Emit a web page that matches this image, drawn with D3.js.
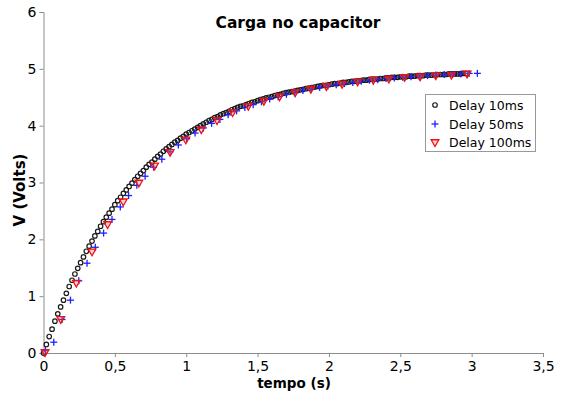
<!DOCTYPE html>
<html>
<head>
<meta charset="utf-8">
<script src="https://cdn.jsdelivr.net/npm/d3@7"></script>
<style>
  html, body { margin: 0; padding: 0; background: #fff; }
  svg { display: block; font-family: "DejaVu Sans", Verdana, sans-serif; }
</style>
</head>
<body>
<div id="chart"></div>
<script>
// Delay 10ms (circles)
var tempo10 = [
  0, 0.02, 0.04, 0.06, 0.08, 0.10, 0.12, 0.14, 0.16, 0.18,
  0.20, 0.22, 0.24, 0.26, 0.28, 0.30, 0.32, 0.34, 0.36, 0.38,
  0.40, 0.42, 0.44, 0.46, 0.48, 0.50, 0.52, 0.54, 0.56, 0.58,
  0.60, 0.62, 0.64, 0.66, 0.68, 0.70, 0.72, 0.74, 0.76, 0.78,
  0.80, 0.82, 0.84, 0.86, 0.88, 0.90, 0.92, 0.94, 0.96, 0.98,
  1.00, 1.02, 1.04, 1.06, 1.08, 1.10, 1.12, 1.14, 1.16, 1.18,
  1.20, 1.22, 1.24, 1.26, 1.28, 1.30, 1.32, 1.34, 1.36, 1.38,
  1.40, 1.42, 1.44, 1.46, 1.48, 1.50, 1.52, 1.54, 1.56, 1.58,
  1.60, 1.62, 1.64, 1.66, 1.68, 1.70, 1.72, 1.74, 1.76, 1.78,
  1.80, 1.82, 1.84, 1.86, 1.88, 1.90, 1.92, 1.94, 1.96, 1.98,
  2.00, 2.02, 2.04, 2.06, 2.08, 2.10, 2.12, 2.14, 2.16, 2.18,
  2.20, 2.22, 2.24, 2.26, 2.28, 2.30, 2.32, 2.34, 2.36, 2.38,
  2.40, 2.42, 2.44, 2.46, 2.48, 2.50, 2.52, 2.54, 2.56, 2.58,
  2.60, 2.62, 2.64, 2.66, 2.68, 2.70, 2.72, 2.74, 2.76, 2.78,
  2.80, 2.82, 2.84, 2.86, 2.88, 2.90, 2.92, 2.94, 2.96
];
var volts10 = [
  0, 0.15, 0.29, 0.42, 0.56, 0.69, 0.81, 0.93, 1.05, 1.17,
  1.28, 1.39, 1.49, 1.59, 1.69, 1.79, 1.88, 1.97, 2.06, 2.14,
  2.23, 2.31, 2.39, 2.46, 2.53, 2.61, 2.68, 2.74, 2.81, 2.87,
  2.93, 2.99, 3.05, 3.11, 3.16, 3.21, 3.27, 3.32, 3.36, 3.41,
  3.46, 3.50, 3.55, 3.59, 3.63, 3.67, 3.71, 3.74, 3.78, 3.81,
  3.85, 3.88, 3.91, 3.94, 3.97, 4.00, 4.03, 4.06, 4.09, 4.11,
  4.14, 4.16, 4.19, 4.21, 4.23, 4.25, 4.28, 4.30, 4.32, 4.34,
  4.35, 4.37, 4.39, 4.41, 4.42, 4.44, 4.46, 4.47, 4.49, 4.50,
  4.51, 4.53, 4.54, 4.55, 4.57, 4.58, 4.59, 4.60, 4.61, 4.62,
  4.63, 4.64, 4.65, 4.66, 4.67, 4.68, 4.69, 4.70, 4.71, 4.71,
  4.72, 4.73, 4.74, 4.74, 4.75, 4.76, 4.76, 4.77, 4.78, 4.78,
  4.79, 4.79, 4.80, 4.80, 4.81, 4.82, 4.82, 4.82, 4.83, 4.83,
  4.84, 4.84, 4.85, 4.85, 4.85, 4.86, 4.86, 4.86, 4.87, 4.87,
  4.87, 4.88, 4.88, 4.88, 4.89, 4.89, 4.89, 4.89, 4.90, 4.90,
  4.90, 4.90, 4.91, 4.91, 4.91, 4.91, 4.91, 4.92, 4.92
];

// Delay 50ms (plus)
var tempo50 = [
  0.014, 0.072, 0.130, 0.189, 0.247, 0.305, 0.363, 0.421, 0.480, 0.538,
  0.596, 0.654, 0.712, 0.771, 0.829, 0.887, 0.945, 1.003, 1.062, 1.120,
  1.178, 1.236, 1.294, 1.353, 1.411, 1.469, 1.527, 1.585, 1.644, 1.702,
  1.760, 1.818, 1.876, 1.935, 1.993, 2.051, 2.109, 2.167, 2.226, 2.284,
  2.342, 2.400, 2.458, 2.517, 2.575, 2.633, 2.691, 2.749, 2.808, 2.866,
  2.924, 2.982, 3.040
];
var volts50 = [
  0.05, 0.19, 0.59, 0.93, 1.27, 1.58, 1.86, 2.11, 2.35, 2.57,
  2.77, 2.95, 3.11, 3.27, 3.41, 3.54, 3.66, 3.77, 3.87, 3.96,
  4.04, 4.11, 4.19, 4.26, 4.32, 4.37, 4.42, 4.47, 4.51, 4.55,
  4.58, 4.62, 4.65, 4.67, 4.70, 4.72, 4.74, 4.76, 4.78, 4.80,
  4.81, 4.83, 4.84, 4.85, 4.86, 4.87, 4.88, 4.89, 4.90, 4.90,
  4.91, 4.92, 4.92
];

// Delay 100ms (triangles)
var tempo100 = [
  0.011, 0.121, 0.230, 0.340, 0.449, 0.559, 0.668, 0.778, 0.887, 0.997,
  1.106, 1.216, 1.325, 1.435, 1.544, 1.654, 1.763, 1.873, 1.982, 2.092,
  2.201, 2.311, 2.420, 2.530, 2.639, 2.749, 2.858, 2.968
];
var volts100 = [
  0.02, 0.60, 1.24, 1.79, 2.27, 2.67, 3.00, 3.30, 3.54, 3.76,
  3.94, 4.10, 4.24, 4.35, 4.44, 4.52, 4.59, 4.65, 4.70, 4.74,
  4.78, 4.81, 4.83, 4.86, 4.87, 4.89, 4.90, 4.92
];

var seriesNames = ["Delay 10ms", "Delay 50ms", "Delay 100ms"];
var xTicks = [0, 0.5, 1, 1.5, 2, 2.5, 3, 3.5];
var yTicks = [0, 1, 2, 3, 4, 5, 6];

var width = 564, height = 396;
var axisColor = "#8c8c8c";

var svg = d3.select("#chart").append("svg")
    .attr("width", width)
    .attr("height", height);

var x = d3.scaleLinear().domain([0, 3.5]).range([43.5, 543]);
var y = d3.scaleLinear().domain([0, 6]).range([353, 12]);

var br = d3.formatLocale({decimal: ",", thousands: ".", grouping: [3], currency: ["", ""]});
var fmt = br.format(".1~f");

// minor ticks
var xMinor = d3.range(0, 36).map(function (i) { return i / 10; });
var yMinor = d3.range(0, 31).map(function (i) { return i / 5; });

var gx = svg.append("g").attr("transform", "translate(0," + y(0) + ")");
gx.call(d3.axisBottom(x).tickValues(xMinor).tickSize(3).tickFormat(""));
gx.call(d3.axisBottom(x).tickValues(xTicks).tickSize(4).tickPadding(4).tickFormat(fmt));

var gy = svg.append("g").attr("transform", "translate(" + x(0) + ",0)");
gy.call(d3.axisLeft(y).tickValues(yMinor).tickSize(3).tickFormat(""));
gy.call(d3.axisLeft(y).tickValues(yTicks).tickSize(4).tickPadding(3).tickFormat(fmt));

svg.selectAll(".domain, .tick line").attr("stroke", axisColor);
svg.selectAll(".tick text")
    .attr("fill", "#000")
    .style("font-size", "14px")
    .style("font-family", "'DejaVu Sans', Verdana, sans-serif");

// title and axis labels
svg.append("text")
    .attr("x", 298).attr("y", 28)
    .attr("text-anchor", "middle")
    .style("font-size", "15.5px").style("font-weight", "bold")
    .text("Carga no capacitor");

svg.append("text")
    .attr("x", 294).attr("y", 388)
    .attr("text-anchor", "middle")
    .style("font-size", "13.5px").style("font-weight", "bold")
    .text("tempo (s)");

svg.append("text")
    .attr("transform", "translate(25,190) rotate(-90)")
    .attr("text-anchor", "middle")
    .style("font-size", "15px").style("font-weight", "bold")
    .text("V (Volts)");

// series
var circleSym = d3.symbol().type(d3.symbolCircle).size(16);
var triSym = d3.symbol().type(d3.symbolTriangle).size(26);

function drawCircles(g, data) {
    g.selectAll("path").data(data).join("path")
        .attr("transform", function (d) { return "translate(" + x(d[0]) + "," + y(d[1]) + ")"; })
        .attr("d", circleSym)
        .attr("fill", "none")
        .attr("stroke", "#1a1a1a")
        .attr("stroke-width", 1.2);
}

function drawPlus(g, data) {
    g.selectAll("line.h").data(data).join("line").attr("class", "h")
        .attr("x1", function (d) { return x(d[0]) - 3.5; })
        .attr("x2", function (d) { return x(d[0]) + 3.5; })
        .attr("y1", function (d) { return y(d[1]); })
        .attr("y2", function (d) { return y(d[1]); })
        .attr("stroke", "#1f1fff").attr("stroke-width", 1.3);
    g.selectAll("line.v").data(data).join("line").attr("class", "v")
        .attr("x1", function (d) { return x(d[0]); })
        .attr("x2", function (d) { return x(d[0]); })
        .attr("y1", function (d) { return y(d[1]) - 3.5; })
        .attr("y2", function (d) { return y(d[1]) + 3.5; })
        .attr("stroke", "#1f1fff").attr("stroke-width", 1.3);
}

function drawTri(g, data) {
    g.selectAll("path").data(data).join("path")
        .attr("transform", function (d) { return "translate(" + x(d[0]) + "," + y(d[1]) + ") rotate(180)"; })
        .attr("d", triSym)
        .attr("fill", "rgba(255,110,110,0.3)")
        .attr("stroke", "#f01010")
        .attr("stroke-width", 1.3);
}

var d10 = d3.zip(tempo10, volts10);
var d50 = d3.zip(tempo50, volts50);
var d100 = d3.zip(tempo100, volts100);

drawCircles(svg.append("g"), d10);
drawPlus(svg.append("g"), d50);
drawTri(svg.append("g"), d100);

// legend
var lg = svg.append("g");
lg.append("rect")
    .attr("x", 425.5).attr("y", 94.5).attr("width", 110).attr("height", 57)
    .attr("fill", "#fff").attr("stroke", "#999");
var rowsY = [105, 124, 142];
drawCircles(lg.append("g"), [[x.invert(435), y.invert(rowsY[0])]]);
drawPlus(lg.append("g"), [[x.invert(435), y.invert(rowsY[1])]]);
drawTri(lg.append("g"), [[x.invert(435), y.invert(rowsY[2])]]);
lg.selectAll("text.lbl").data(seriesNames).join("text").attr("class", "lbl")
    .attr("x", 449)
    .attr("y", function (d, i) { return rowsY[i] + 4.5; })
    .style("font-size", "12.5px")
    .text(function (d) { return d; });
</script>
</body>
</html>
